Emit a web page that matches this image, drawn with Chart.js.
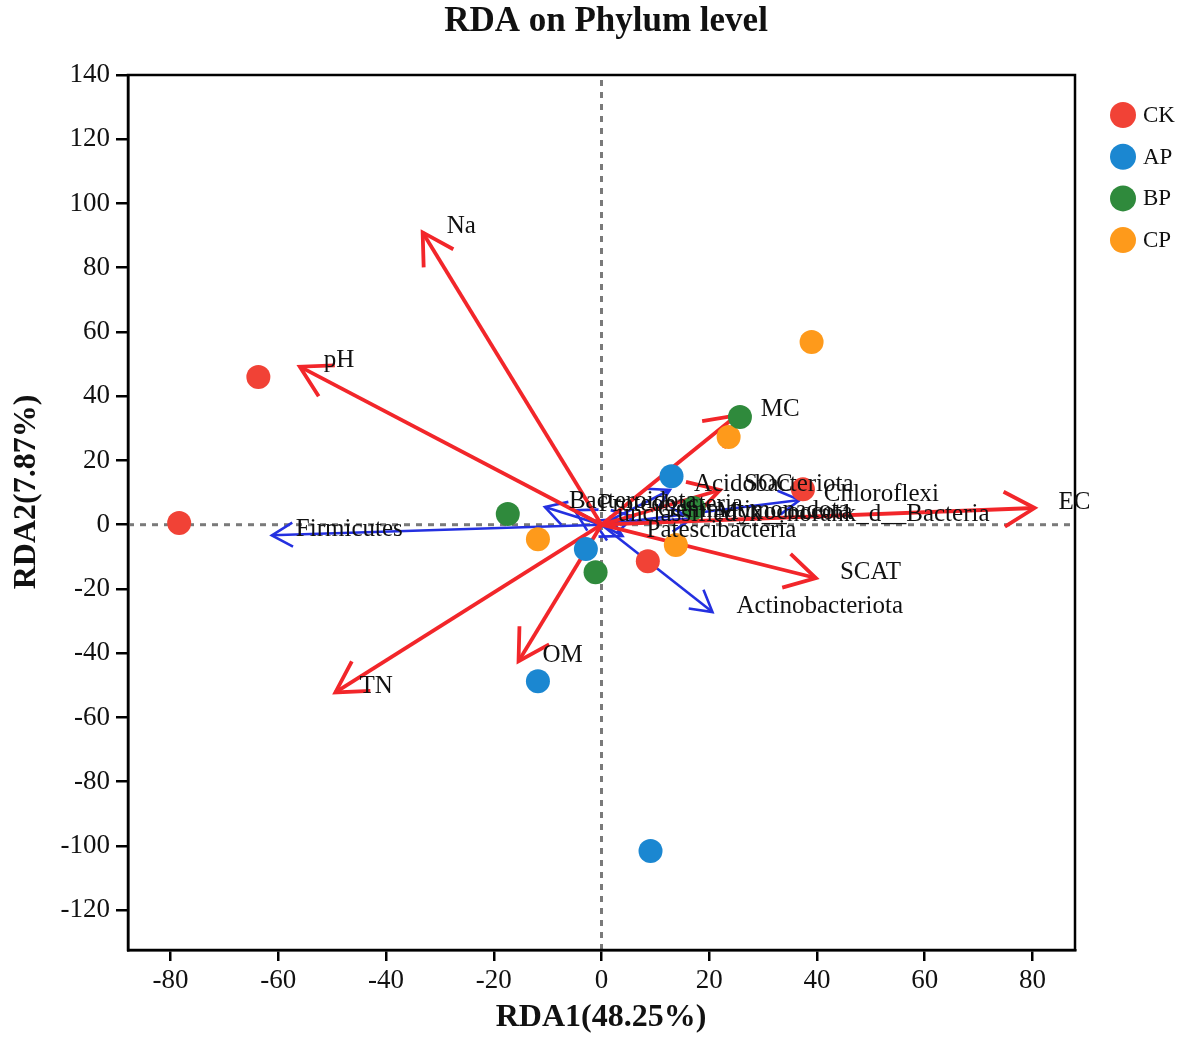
<!DOCTYPE html>
<html lang="en">
<head>
<meta charset="UTF-8">
<title>RDA on Phylum level</title>
<script src="https://cdn.jsdelivr.net/npm/chart.js"></script>
<style>
  body { margin: 0; background: #fff; }
  canvas { display: block; }
</style>
</head>
<body>
<canvas id="rdaChart" width="1181" height="1041"></canvas>
<script>
// sample groups
const groups = ['CK', 'AP', 'BP', 'CP'];
const groupColors = ['#f14236', '#1b87d1', '#2f8a3c', '#fe9a1b'];
const ckX = [-78.4, -63.7, 37.4, 8.6];
const ckY = [0.5, 46, 11, -11.4];
const apX = [13.0, -2.9, -11.8, 9.1];
const apY = [15.1, -7.6, -48.7, -101.6];
const bpX = [25.7, 17.1, -17.4, -1.1];
const bpY = [33.5, 5.2, 3.3, -14.8];
const cpX = [39.0, 23.6, 13.8, -11.8];
const cpY = [56.9, 27.3, -6.3, -4.5];
const groupXs = [ckX, apX, bpX, cpX];
const groupYs = [ckY, apY, bpY, cpY];

// environmental factors (red arrows)
const envNames = ['Na', 'pH', 'MC', 'SOC', 'EC', 'SCAT', 'OM', 'TN'];
const envX = [-33.2, -56.0, 25.1, 22.0, 80.4, 39.8, -15.4, -49.4];
const envY = [91, 49.2, 34, 10.8, 5.2, -16.6, -42.5, -52.2];

// phyla (blue arrows)
const phylaNames = ['Firmicutes', 'Actinobacteriota', 'Chloroflexi', 'Acidobacteriota', 'Bacteroidota',
  'Proteobacteria', 'Gemmatimonadota', 'Myxococcota', 'unclassified_k__norank_d__Bacteria', 'Patescibacteria'];
const phylaX = [-61.2, 20.6, 36.8, 12.7, -10.5, -5.0, 6.0, 16.9, -1.5, 3.9];
const phylaY = [-3.3, -27.2, 7.7, 10.8, 5.5, 4.5, 2.5, 2.0, 1.2, -3.5];

const xTicks = [-80, -60, -40, -20, 0, 20, 40, 60, 80];
const yTicks = [-120, -100, -80, -60, -40, -20, 0, 20, 40, 60, 80, 100, 120, 140];
const xMin = -87.9, xMax = 87.9;
const yMin = -132.4, yMax = 140;

const serif = '"Liberation Serif", "Times New Roman", serif';
const envColor = '#f2262a';
const phylaColor = '#2430e0';

const datasets = [];
groups.forEach((g, i) => {
  datasets.push({
    label: g,
    data: groupXs[i].map((x, k) => ({ x: x, y: groupYs[i][k] })),
    backgroundColor: groupColors[i],
    borderWidth: 0,
    pointRadius: 12,
    order: 0
  });
});
phylaNames.forEach((n, i) => {
  datasets.push({
    label: n, arrow: 'phyla',
    data: [{ x: 0, y: 0 }, { x: phylaX[i], y: phylaY[i] }],
    showLine: true, borderColor: phylaColor, borderWidth: 2.6, pointRadius: 0,
    order: 2
  });
});
envNames.forEach((n, i) => {
  datasets.push({
    label: n, arrow: 'env',
    data: [{ x: 0, y: 0 }, { x: envX[i], y: envY[i] }],
    showLine: true, borderColor: envColor, borderWidth: 3.8, pointRadius: 0,
    order: 1
  });
});
// dashed zero lines
datasets.push({
  label: 'zeroX', data: [{ x: xMin, y: 0 }, { x: xMax, y: 0 }],
  showLine: true, borderColor: '#7a7a7a', borderWidth: 3, borderDash: [6, 6], pointRadius: 0, order: 5
});
datasets.push({
  label: 'zeroY', data: [{ x: 0, y: yMin }, { x: 0, y: yMax }],
  showLine: true, borderColor: '#7a7a7a', borderWidth: 3, borderDash: [6, 6], pointRadius: 0, order: 5
});

const arrowPlugin = {
  id: 'arrows',
  afterDatasetDraw(chart, args) {
    const ds = chart.data.datasets[args.index];
    if (!ds.arrow) return;
    const p0 = args.meta.data[0], p1 = args.meta.data[1];
    const ang = Math.atan2(p1.y - p0.y, p1.x - p0.x);
    const len = ds.arrow === 'env' ? 35 : 24;
    const spread = 0.52;
    const ctx = chart.ctx;
    ctx.save();
    ctx.strokeStyle = ds.borderColor;
    ctx.lineWidth = ds.borderWidth;
    ctx.lineJoin = 'miter';
    ctx.beginPath();
    ctx.moveTo(p1.x - len * Math.cos(ang - spread), p1.y - len * Math.sin(ang - spread));
    ctx.lineTo(p1.x, p1.y);
    ctx.lineTo(p1.x - len * Math.cos(ang + spread), p1.y - len * Math.sin(ang + spread));
    ctx.stroke();
    ctx.restore();
  },
  afterDraw(chart) {
    const ctx = chart.ctx;
    const area = chart.chartArea;
    ctx.save();
    // frame
    ctx.strokeStyle = '#000';
    ctx.lineWidth = 2.5;
    ctx.strokeRect(area.left, area.top, area.right - area.left, area.bottom - area.top);

    // arrow labels
    ctx.fillStyle = '#111';
    ctx.textAlign = 'left';
    ctx.textBaseline = 'middle';
    ctx.font = '25px ' + serif;
    chart.data.datasets.forEach((ds, i) => {
      if (!ds.arrow) return;
      const tip = chart.getDatasetMeta(i).data[1];
      ctx.fillText(ds.label, tip.x + 24, tip.y - 6);
    });

    // title and axis titles
    ctx.textAlign = 'center';
    ctx.font = 'bold 35px ' + serif;
    ctx.fillText('RDA on Phylum level', 606, 22);
    ctx.font = 'bold 32px ' + serif;
    ctx.fillText('RDA1(48.25%)', 601, 1018);
    ctx.save();
    ctx.translate(27, 492);
    ctx.rotate(-Math.PI / 2);
    ctx.fillText('RDA2(7.87%)', 0, 0);
    ctx.restore();

    // legend
    ctx.textAlign = 'left';
    ctx.font = '23px ' + serif;
    groups.forEach((g, i) => {
      const y = 115 + i * 41.7;
      ctx.beginPath();
      ctx.fillStyle = groupColors[i];
      ctx.arc(1123, y, 13, 0, Math.PI * 2);
      ctx.fill();
      ctx.fillStyle = '#111';
      ctx.fillText(g, 1143, y + 1);
    });
    ctx.restore();
  }
};

new Chart(document.getElementById('rdaChart'), {
  type: 'scatter',
  data: { datasets: datasets },
  options: {
    responsive: false,
    animation: false,
    events: [],
    layout: { padding: { top: 75, right: 106, left: 0, bottom: 0 } },
    plugins: { legend: { display: false }, tooltip: { enabled: false } },
    scales: {
      x: {
        min: xMin, max: xMax,
        afterBuildTicks: axis => { axis.ticks = xTicks.map(v => ({ value: v })); },
        afterFit: axis => { axis.height = 91; },
        grid: { drawOnChartArea: false, drawTicks: true, tickLength: 11, color: '#000', lineWidth: 2.5 },
        border: { display: true, color: '#000', width: 2.5 },
        ticks: { color: '#111', font: { family: serif, size: 27 }, padding: 4, maxRotation: 0 }
      },
      y: {
        min: yMin, max: yMax,
        afterBuildTicks: axis => { axis.ticks = yTicks.map(v => ({ value: v })); },
        afterFit: axis => { axis.width = 128; },
        grid: { drawOnChartArea: false, drawTicks: true, tickLength: 12, color: '#000', lineWidth: 2.5 },
        border: { display: true, color: '#000', width: 2.5 },
        ticks: { color: '#111', font: { family: serif, size: 27 }, padding: 6 }
      }
    }
  },
  plugins: [arrowPlugin]
});
</script>
</body>
</html>
